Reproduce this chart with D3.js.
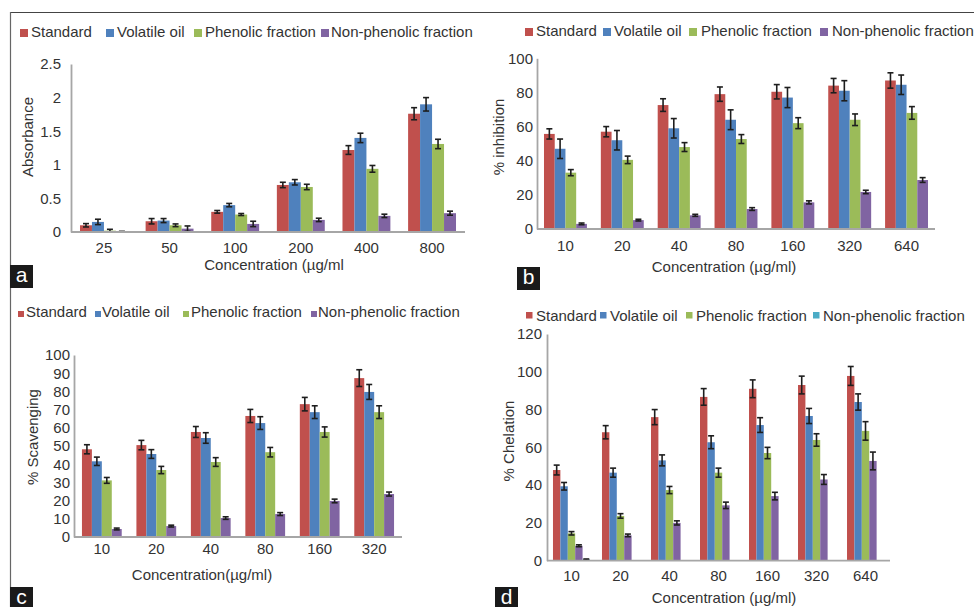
<!DOCTYPE html>
<html><head><meta charset="utf-8">
<script src="https://cdn.jsdelivr.net/npm/d3@7"></script>
<style>
html,body{margin:0;padding:0;background:#fff;}
svg{display:block;font-family:"Liberation Sans",Arial,Helvetica,sans-serif;}
</style></head>
<body><svg id="chart" width="974" height="607"></svg>
<script>
// ---------- DATA ----------
const seriesNames = ["Standard", "Volatile oil", "Phenolic fraction", "Non-phenolic fraction"];

// Panel a : Absorbance
const catsA = ["25", "50", "100", "200", "400", "800"];
const aStandard = [0.10, 0.16, 0.30, 0.70, 1.22, 1.76];
const aVolatile = [0.15, 0.17, 0.40, 0.74, 1.40, 1.90];
const aPhenolic = [0.02, 0.10, 0.26, 0.67, 0.94, 1.31];
const aNonPhenolic = [0.005, 0.05, 0.12, 0.18, 0.24, 0.28];
const aStandardErr = [0.025, 0.04, 0.02, 0.04, 0.065, 0.09];
const aVolatileErr = [0.04, 0.03, 0.025, 0.04, 0.07, 0.10];
const aPhenolicErr = [0.02, 0.02, 0.015, 0.04, 0.05, 0.07];
const aNonPhenolicErr = [0.005, 0.04, 0.04, 0.025, 0.025, 0.03];
const ticksA = [0, 0.5, 1, 1.5, 2, 2.5];

// Panel b : % inhibition
const catsB = ["10", "20", "40", "80", "160", "320", "640"];
const bStandard = [55.7, 57, 72.6, 79, 80.4, 84, 87];
const bVolatile = [47, 52, 59, 64, 77, 81, 84.5];
const bPhenolic = [33, 40.5, 48, 52.7, 62, 64, 68];
const bNonPhenolic = [3, 5.2, 8, 11.7, 15.6, 21.7, 28.7];
const bStandardErr = [3, 3, 3.7, 4.2, 4.2, 4.2, 4.5];
const bVolatileErr = [5.7, 5.7, 5.7, 5.8, 5.9, 5.9, 5.7];
const bPhenolicErr = [1.8, 2.2, 2.6, 2.6, 3.2, 3.4, 3.7];
const bNonPhenolicErr = [0.5, 0.5, 0.6, 0.8, 0.9, 1.0, 1.4];
const ticksB = [0, 20, 40, 60, 80, 100];

// Panel c : % Scavenging
const catsC = ["10", "20", "40", "80", "160", "320"];
const cStandard = [48.2, 50.5, 57.7, 66.5, 73, 87.3];
const cVolatile = [41.6, 45.6, 54.4, 62.6, 68.6, 79.7];
const cPhenolic = [31.1, 36.8, 41.2, 46.6, 57.7, 68.6];
const cNonPhenolic = [4.4, 6, 10.4, 12.6, 19.8, 23.6];
const cStandardErr = [2.5, 2.6, 3, 3.6, 3.7, 4.6];
const cVolatileErr = [2.3, 2.4, 2.9, 3.5, 3.5, 4.1];
const cPhenolicErr = [1.6, 2, 2.4, 2.6, 2.8, 3.5];
const cNonPhenolicErr = [0.5, 0.5, 0.7, 0.8, 1.0, 1.1];
const ticksC = [0, 10, 20, 30, 40, 50, 60, 70, 80, 90, 100];

// Panel d : % Chelation (purple series unlabeled, teal = legend "Non-phenolic fraction")
const catsD = ["10", "20", "40", "80", "160", "320", "640"];
const dStandard = [48, 68, 76, 86.7, 91, 93, 97.8];
const dVolatile = [39.4, 46.6, 53.1, 62.7, 71.8, 76.6, 84];
const dPhenolic = [14.5, 23.7, 37.4, 46.6, 57, 63.9, 68.7];
const dPurple = [7.9, 13.4, 20, 29.3, 34.2, 43, 52.8];
const dNonPhenolic = [0.6, 0, 0, 0, 0, 0, 0];
const dStandardErr = [2.6, 3.5, 4, 4.4, 4.7, 4.7, 5];
const dVolatileErr = [2, 2.4, 2.9, 3.4, 3.9, 4, 4.3];
const dPhenolicErr = [0.9, 1.2, 1.9, 2.4, 3, 3.3, 4.9];
const dPurpleErr = [0.5, 0.7, 1.1, 1.7, 2, 2.6, 4.7];
const dNonPhenolicErr = [0.3, 0, 0, 0, 0, 0, 0];
const ticksD = [0, 20, 40, 60, 80, 100, 120];

// ---------- STYLE ----------
const C = {red: "#c0504d", blue: "#4f81bd", green: "#9bbb59", purple: "#8064a2", teal: "#4bacc6"};
const textColor = "#333";
const axisColor = "#a6a6a6";

const svg = d3.select("#chart");

// frame
svg.append("line").attr("x1", 10).attr("x2", 974).attr("y1", 12.5).attr("y2", 12.5)
  .attr("stroke", "#444").attr("stroke-width", 1.2);
svg.append("line").attr("x1", 10.5).attr("x2", 10.5).attr("y1", 12).attr("y2", 607)
  .attr("stroke", "#666").attr("stroke-width", 1.2);

function drawPanel(cfg) {
  const g = svg.append("g");
  const x = d3.scaleBand().domain(cfg.cats).range([cfg.x0, cfg.x1])
    .paddingInner(cfg.pi).paddingOuter(cfg.po);
  const xs = d3.scaleBand().domain(d3.range(cfg.series.length)).range([0, x.bandwidth()]);
  const y = d3.scaleLinear().domain([0, cfg.ymax]).range([cfg.y0, cfg.y1]);

  // bars
  cfg.series.forEach((s, i) => {
    g.append("g").selectAll("rect").data(s.values).join("rect")
      .attr("x", (d, j) => x(cfg.cats[j]) + xs(i))
      .attr("width", xs.bandwidth())
      .attr("y", d => y(d))
      .attr("height", d => y(0) - y(d))
      .attr("fill", s.color);
  });
  // error bars
  cfg.series.forEach((s, i) => {
    const eg = g.append("g").attr("stroke", "#1e1e1e").attr("stroke-width", 1.6);
    s.values.forEach((v, j) => {
      const e = s.errs[j];
      if (!e) return;
      const cx = x(cfg.cats[j]) + xs(i) + xs.bandwidth() / 2;
      const lo = y(Math.max(0, v - e)), hi = y(v + e);
      eg.append("line").attr("x1", cx).attr("x2", cx).attr("y1", lo).attr("y2", hi);
      eg.append("line").attr("x1", cx - 3).attr("x2", cx + 3).attr("y1", lo).attr("y2", lo);
      eg.append("line").attr("x1", cx - 3).attr("x2", cx + 3).attr("y1", hi).attr("y2", hi);
    });
  });

  // y axis
  const ya = g.append("g").attr("transform", `translate(${cfg.x0},0)`)
    .call(d3.axisLeft(y).tickValues(cfg.ticks).tickSize(0).tickSizeOuter(0)
      .tickPadding(cfg.x0 - cfg.yLabelX).tickFormat(d => String(d)));
  // x axis
  const xa = g.append("g").attr("transform", `translate(0,${cfg.y0})`)
    .call(d3.axisBottom(x).tickSize(0).tickSizeOuter(0).tickPadding(cfg.xPad));
  [ya, xa].forEach(a => {
    a.select(".domain").attr("stroke", axisColor).attr("stroke-width", 1.8);
    a.selectAll("text").attr("font-size", 15).attr("fill", textColor)
      .attr("font-family", '"Liberation Sans",Arial,sans-serif');
  });
  xa.select(".domain").attr("d", `M${cfg.x0},0H${cfg.x1}`);

  // titles
  g.append("text").attr("x", cfg.xtX).attr("y", cfg.xtY).attr("text-anchor", "middle")
    .attr("font-size", 15).attr("fill", textColor).text(cfg.xTitle);
  g.append("text").attr("transform", `translate(${cfg.ytX},${cfg.ytY}) rotate(-90)`)
    .attr("text-anchor", "middle").attr("font-size", 15).attr("fill", textColor).text(cfg.yTitle);

  // legend
  cfg.legend.forEach(l => {
    g.append("rect").attr("x", l.sx).attr("y", cfg.legSqY).attr("width", cfg.legSq).attr("height", cfg.legSq)
      .attr("fill", l.color);
    g.append("text").attr("x", l.tx).attr("y", cfg.legY).attr("font-size", 15)
      .attr("fill", textColor).text(l.label);
  });

  // panel label
  g.append("rect").attr("x", cfg.box[0]).attr("y", cfg.box[1]).attr("width", 23).attr("height", 23)
    .attr("fill", "#1a1a1a");
  g.append("text").attr("x", cfg.box[0] + 11.5).attr("y", cfg.box[1] + 17).attr("text-anchor", "middle")
    .attr("font-size", 21).attr("fill", "#fff").text(cfg.letter);
}

// Panel a
drawPanel({
  cats: catsA, x0: 71, x1: 465, y0: 232, y1: 64, ymax: 2.5, ticks: ticksA,
  pi: 0.27, po: 0.137, yLabelX: 61, xPad: 10.5,
  series: [
    {values: aStandard, errs: aStandardErr, color: C.red},
    {values: aVolatile, errs: aVolatileErr, color: C.blue},
    {values: aPhenolic, errs: aPhenolicErr, color: C.green},
    {values: aNonPhenolic, errs: aNonPhenolicErr, color: C.purple}
  ],
  xTitle: "Concentration (\u00b5g/ml", xtX: 274, xtY: 270,
  yTitle: "Absorbance", ytX: 33, ytY: 137,
  legY: 37, legSqY: 29, legSq: 8,
  legend: [
    {label: seriesNames[0], color: C.red, sx: 20, tx: 31},
    {label: seriesNames[1], color: C.blue, sx: 106, tx: 117},
    {label: seriesNames[2], color: C.green, sx: 194, tx: 205},
    {label: seriesNames[3], color: C.purple, sx: 321, tx: 331}
  ],
  box: [10, 265], letter: "a"
});

// Panel b
drawPanel({
  cats: catsB, x0: 537, x1: 935, y0: 229, y1: 58.3, ymax: 100, ticks: ticksB,
  pi: 0.245, po: 0.123, yLabelX: 533, xPad: 11,
  series: [
    {values: bStandard, errs: bStandardErr, color: C.red},
    {values: bVolatile, errs: bVolatileErr, color: C.blue},
    {values: bPhenolic, errs: bPhenolicErr, color: C.green},
    {values: bNonPhenolic, errs: bNonPhenolicErr, color: C.purple}
  ],
  xTitle: "Concentration (\u00b5g/ml)", xtX: 724, xtY: 272,
  yTitle: "% inhibition", ytX: 504, ytY: 137,
  legY: 36, legSqY: 28, legSq: 8,
  legend: [
    {label: seriesNames[0], color: C.red, sx: 525, tx: 536},
    {label: seriesNames[1], color: C.blue, sx: 603, tx: 614},
    {label: seriesNames[2], color: C.green, sx: 689, tx: 701},
    {label: seriesNames[3], color: C.purple, sx: 820, tx: 832}
  ],
  box: [517, 267], letter: "b"
});

// Panel c
drawPanel({
  cats: catsC, x0: 74, x1: 402, y0: 537, y1: 355, ymax: 100, ticks: ticksC,
  pi: 0.27, po: 0.146, yLabelX: 70, xPad: 6,
  series: [
    {values: cStandard, errs: cStandardErr, color: C.red},
    {values: cVolatile, errs: cVolatileErr, color: C.blue},
    {values: cPhenolic, errs: cPhenolicErr, color: C.green},
    {values: cNonPhenolic, errs: cNonPhenolicErr, color: C.purple}
  ],
  xTitle: "Concentration(\u00b5g/ml)", xtX: 202, xtY: 580,
  yTitle: "% Scavenging", ytX: 38, ytY: 437,
  legY: 317, legSqY: 311, legSq: 6,
  legend: [
    {label: seriesNames[0], color: C.red, sx: 18, tx: 26},
    {label: seriesNames[1], color: C.blue, sx: 95, tx: 102},
    {label: seriesNames[2], color: C.green, sx: 183, tx: 191},
    {label: seriesNames[3], color: C.purple, sx: 311, tx: 318}
  ],
  box: [10, 587], letter: "c"
});

// Panel d
drawPanel({
  cats: catsD, x0: 547, x1: 890, y0: 560.7, y1: 334, ymax: 120, ticks: ticksD,
  pi: 0.245, po: 0.122, yLabelX: 542, xPad: 9.5,
  series: [
    {values: dStandard, errs: dStandardErr, color: C.red},
    {values: dVolatile, errs: dVolatileErr, color: C.blue},
    {values: dPhenolic, errs: dPhenolicErr, color: C.green},
    {values: dPurple, errs: dPurpleErr, color: C.purple},
    {values: dNonPhenolic, errs: dNonPhenolicErr, color: C.teal}
  ],
  xTitle: "Concentration (\u00b5g/ml)", xtX: 724, xtY: 603,
  yTitle: "% Chelation", ytX: 514, ytY: 441,
  legY: 321, legSqY: 312, legSq: 6.5,
  legend: [
    {label: seriesNames[0], color: C.red, sx: 526, tx: 536},
    {label: seriesNames[1], color: C.blue, sx: 600, tx: 610},
    {label: seriesNames[2], color: C.green, sx: 686, tx: 696},
    {label: seriesNames[3], color: C.teal, sx: 813, tx: 823}
  ],
  box: [495, 587], letter: "d"
});
</script></body></html>
